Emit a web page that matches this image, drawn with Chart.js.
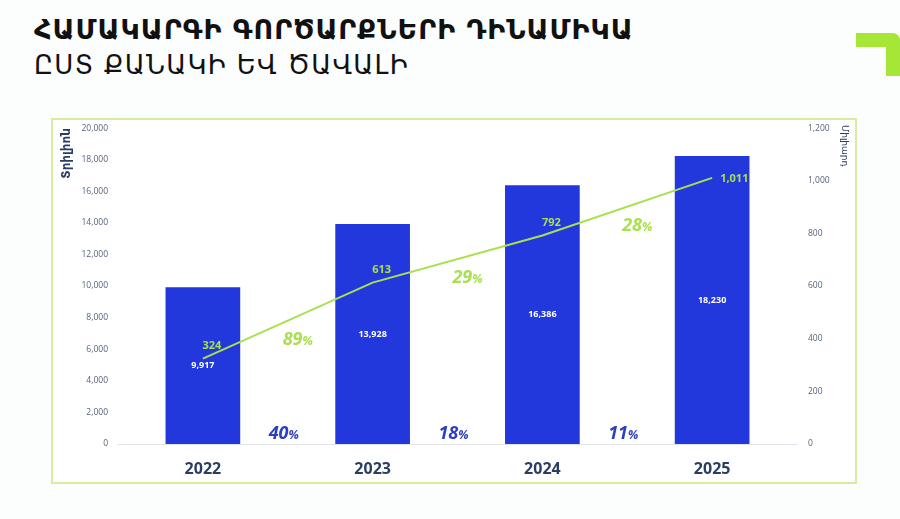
<!DOCTYPE html>
<html>
<head>
<meta charset="utf-8">
<script src="https://cdn.jsdelivr.net/npm/chart.js@4.4.1/dist/chart.umd.min.js"></script>
<style>
  html, body { margin: 0; padding: 0; background: #fcfdfd; }
  body { width: 900px; height: 519px; position: relative; overflow: hidden; font-family: "DejaVu Sans", sans-serif; }
  #title { position: absolute; left: 34px; top: 14px; font-size: 27px; font-weight: bold; color: #111; letter-spacing: 1px; }
  #subtitle { position: absolute; left: 34px; top: 50px; font-size: 26px; color: #111; letter-spacing: 1.3px; }
  .corner-h { position: absolute; left: 856px; top: 33px; width: 44px; height: 14px; background: #a6e636; border-top-right-radius: 8px; }
  .corner-v { position: absolute; left: 886px; top: 33px; width: 14px; height: 43px; background: #a6e636; border-top-right-radius: 8px; }
  #box { position: absolute; left: 51px; top: 118px; width: 802px; height: 362px; border: 2px solid #d6ec9e; background: #fff; }
  #wrap { position: absolute; left: 0; top: 0; width: 802px; height: 362px; }
</style>
</head>
<body>
<div id="title">ՀԱՄԱԿԱՐԳԻ ԳՈՐԾԱՐՔՆԵՐԻ ԴԻՆԱՄԻԿԱ</div>
<div id="subtitle">ԸՍՏ ՔԱՆԱԿԻ ԵՎ ԾԱՎԱԼԻ</div>
<div class="corner-h"></div>
<div class="corner-v"></div>
<div id="box"><div id="wrap"><canvas id="chart"></canvas></div></div>
<script>
// Data
const years = ['2022', '2023', '2024', '2025'];
const volumeTrillion = [9917, 13928, 16386, 18230];   // bars, left axis
const countBillion = [324, 613, 792, 1011];           // line, right axis
const volumeGrowth = ['40', '18', '11'];              // between bars, blue
const countGrowth = ['89', '29', '28'];               // along line, green
const leftTitle = 'Տրիլիոն';
const rightTitle = 'Միլիարդ';

const BLUE = '#2338dc';
const GREEN = '#a8e04e';
const NAVY = '#2b3d63';

// Value labels, growth labels and axis titles drawn through the scales
const labelsPlugin = {
  id: 'labels',
  afterDatasetsDraw(chart) {
    const ctx = chart.ctx;
    const x = chart.scales.x, y = chart.scales.y, y1 = chart.scales.y1;
    const area = chart.chartArea;
    ctx.save();
    // bar values in the middle of each bar
    ctx.fillStyle = '#ffffff';
    ctx.font = 'bold 9px "Open Sans"';
    ctx.textAlign = 'center';
    ctx.textBaseline = 'middle';
    volumeTrillion.forEach((v, i) => {
      const py = (y.getPixelForValue(v) + y.getPixelForValue(0)) / 2;
      ctx.fillText(v.toLocaleString('en-US'), x.getPixelForValue(i), py);
    });
    // line values
    ctx.fillStyle = GREEN;
    ctx.font = 'bold 11px "Open Sans"';
    countBillion.forEach((v, i) => {
      const px = x.getPixelForValue(i), py = y1.getPixelForValue(v);
      if (i === countBillion.length - 1) {
        ctx.textAlign = 'left';
        ctx.fillText(v.toLocaleString('en-US'), px + 8, py + 1);
      } else {
        ctx.textAlign = 'center';
        ctx.fillText(v.toLocaleString('en-US'), px + 9, py - 13);
      }
    });
    // growth labels between categories
    const drawPct = (txt, cx, cy, color) => {
      ctx.fillStyle = color;
      ctx.textBaseline = 'alphabetic';
      ctx.font = 'italic bold 18px "Open Sans"';
      const w1 = ctx.measureText(txt).width;
      ctx.font = 'italic bold 12px "Open Sans"';
      const w2 = ctx.measureText('%').width;
      const sx = cx - (w1 + w2) / 2;
      ctx.textAlign = 'left';
      ctx.font = 'italic bold 18px "Open Sans"';
      ctx.fillText(txt, sx, cy);
      ctx.font = 'italic bold 12px "Open Sans"';
      ctx.fillText('%', sx + w1, cy);
    };
    volumeGrowth.forEach((g, i) => {
      const cx = (x.getPixelForValue(i) + x.getPixelForValue(i + 1)) / 2 - 4;
      drawPct(g, cx, y.getPixelForValue(0) - 5, '#2c3ec2');
    });
    countGrowth.forEach((g, i) => {
      const cx = (x.getPixelForValue(i) + x.getPixelForValue(i + 1)) / 2 + 10;
      const cy = (y1.getPixelForValue(countBillion[i]) + y1.getPixelForValue(countBillion[i + 1])) / 2 + 24;
      drawPct(g, cx, cy, GREEN);
    });
    // axis titles, anchored at the top of the plot
    ctx.fillStyle = NAVY;
    ctx.textBaseline = 'middle';
    ctx.save();
    ctx.translate(area.left - 51, area.top);
    ctx.rotate(-Math.PI / 2);
    ctx.textAlign = 'right';
    ctx.font = 'bold 12px "DejaVu Sans"';
    ctx.fillText(leftTitle, 0, 0);
    ctx.restore();
    ctx.save();
    ctx.translate(area.right + 47, area.top - 3);
    ctx.rotate(Math.PI / 2);
    ctx.textAlign = 'left';
    ctx.font = '9px "DejaVu Sans"';
    ctx.fillText(rightTitle, 0, 0);
    ctx.restore();
    ctx.restore();
  }
};

new Chart(document.getElementById('chart'), {
  data: {
    labels: years,
    datasets: [
      {
        type: 'line',
        data: countBillion,
        yAxisID: 'y1',
        borderColor: GREEN,
        borderWidth: 2,
        pointRadius: 0,
        tension: 0,
        order: 0
      },
      {
        type: 'bar',
        data: volumeTrillion,
        yAxisID: 'y',
        backgroundColor: BLUE,
        barPercentage: 0.44,
        categoryPercentage: 1,
        order: 1
      }
    ]
  },
  options: {
    responsive: true,
    maintainAspectRatio: false,
    animation: false,
    layout: { padding: { top: 1, left: 0, right: 0, bottom: 0 } },
    plugins: { legend: { display: false }, tooltip: { enabled: false } },
    scales: {
      x: {
        grid: { display: false },
        border: { display: true, color: '#dfe3ec', width: 1 },
        ticks: { color: NAVY, font: { family: 'Open Sans', size: 16, weight: 'bold' }, padding: 8 },
        afterFit(s) { s.height = 38; }
      },
      y: {
        position: 'left',
        min: 0, max: 20000,
        grid: { display: false },
        border: { display: false },
        ticks: { stepSize: 2000, color: '#56627a', font: { family: 'Open Sans', size: 8.5 }, padding: 2,
                 callback: v => v.toLocaleString('en-US') },
        afterFit(s) { s.width = 65; }
      },
      y1: {
        position: 'right',
        min: 0, max: 1200,
        grid: { display: false },
        border: { display: false },
        ticks: { stepSize: 200, color: '#56627a', font: { family: 'Open Sans', size: 8.5 }, padding: 3,
                 callback: v => v.toLocaleString('en-US') },
        afterFit(s) { s.width = 58; }
      }
    }
  },
  plugins: [labelsPlugin]
});
</script>
</body>
</html>
